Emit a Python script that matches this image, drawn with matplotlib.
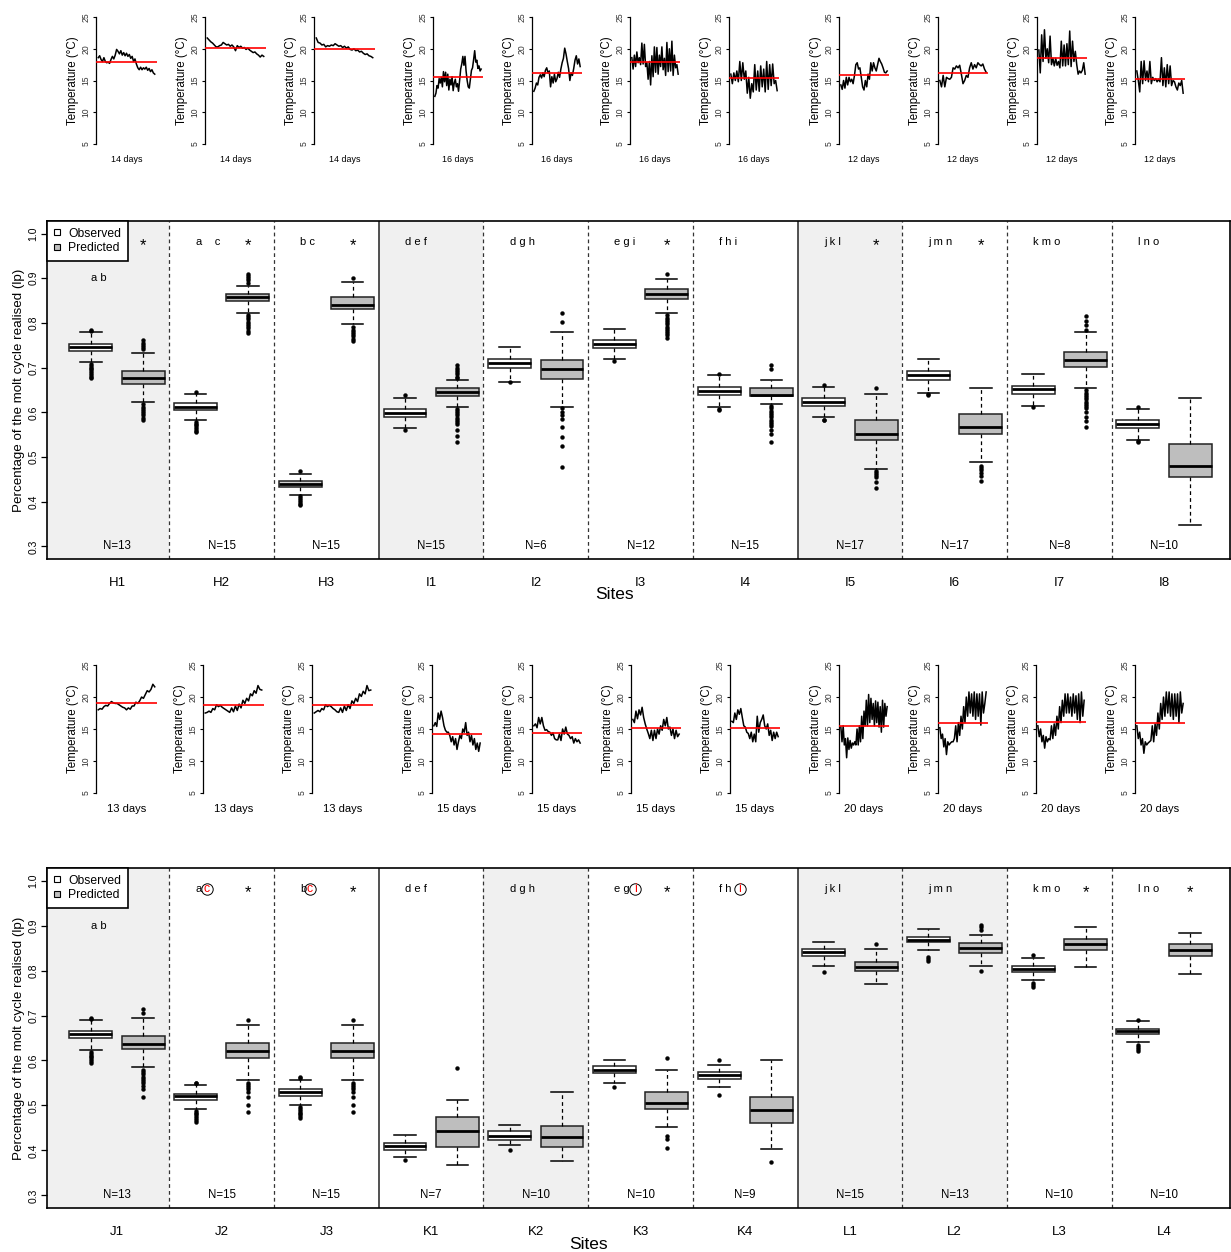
import matplotlib
matplotlib.use('Agg')
import matplotlib.pyplot as plt
from matplotlib.lines import Line2D
import numpy as np

plt.rcParams['font.family'] = ['Liberation Sans', 'DejaVu Sans']

# ------------------------------------------------------------------ data
sites_top = ['H1', 'H2', 'H3', 'I1', 'I2', 'I3', 'I4', 'I5', 'I6', 'I7', 'I8']
sites_bot = ['J1', 'J2', 'J3', 'K1', 'K2', 'K3', 'K4', 'L1', 'L2', 'L3', 'L4']
n_top = [13, 15, 15, 15, 6, 12, 15, 17, 17, 8, 10]
n_bot = [13, 15, 15, 7, 10, 10, 9, 15, 13, 10, 10]
letters_top = ['a b', 'a    c', 'b c', 'd e f', 'd g h', 'e g i', 'f h i',
               'j k l', 'j m n', 'k m o', 'l n o']
letters_bot = ['a b', 'a', 'b', 'd e f', 'd g h', 'e g', 'f h',
               'j k l', 'j m n', 'k m o', 'l n o']
circled_bot = ['', 'c', 'c', '', '', 'i', 'i', '', '', '', '']
star_top = [1, 1, 1, 0, 0, 1, 0, 1, 1, 0, 0]
star_bot = [0, 1, 1, 0, 0, 1, 0, 0, 0, 1, 1]

# box statistics: [lower whisker, q1, median, q3, upper whisker]
obs_top = [[0.712, 0.737, 0.747, 0.754, 0.780],
           [0.583, 0.605, 0.613, 0.620, 0.641],
           [0.416, 0.434, 0.440, 0.446, 0.463],
           [0.566, 0.590, 0.599, 0.607, 0.633],
           [0.669, 0.699, 0.710, 0.719, 0.747],
           [0.719, 0.744, 0.753, 0.762, 0.787],
           [0.612, 0.638, 0.648, 0.656, 0.683],
           [0.589, 0.614, 0.624, 0.633, 0.657],
           [0.644, 0.672, 0.683, 0.692, 0.720],
           [0.615, 0.642, 0.652, 0.660, 0.686],
           [0.539, 0.565, 0.574, 0.582, 0.608]]
obs_top_out = [[0.784, 0.782, 0.708, 0.704, 0.700, 0.696, 0.692, 0.688, 0.684, 0.680, 0.676],
               [0.645, 0.579, 0.575, 0.571, 0.567, 0.563, 0.559, 0.555],
               [0.468, 0.412, 0.408, 0.404, 0.400, 0.396, 0.392],
               [0.638, 0.560],
               [0.667],
               [0.715],
               [0.686, 0.607, 0.605],
               [0.661, 0.584, 0.582],
               [0.639, 0.641],
               [0.611],
               [0.613, 0.535, 0.533]]
pred_top = [[0.623, 0.663, 0.676, 0.693, 0.733],
            [0.823, 0.848, 0.858, 0.865, 0.883],
            [0.797, 0.831, 0.841, 0.857, 0.891],
            [0.613, 0.637, 0.646, 0.654, 0.672],
            [0.613, 0.675, 0.696, 0.717, 0.780],
            [0.822, 0.854, 0.865, 0.877, 0.898],
            [0.619, 0.637, 0.639, 0.654, 0.672],
            [0.473, 0.538, 0.552, 0.582, 0.640],
            [0.490, 0.552, 0.568, 0.597, 0.654],
            [0.654, 0.701, 0.717, 0.734, 0.780],
            [0.347, 0.456, 0.481, 0.530, 0.631]]
pred_top_out = [[0.761, 0.756, 0.751, 0.746, 0.741, 0.618, 0.613, 0.608, 0.603, 0.598, 0.593, 0.588, 0.583],
                [0.910, 0.905, 0.900, 0.895, 0.890, 0.818, 0.813, 0.808, 0.803, 0.798, 0.793, 0.788, 0.783, 0.778],
                [0.901, 0.790, 0.785, 0.780, 0.775, 0.770, 0.765, 0.760],
                [0.706, 0.700, 0.695, 0.690, 0.685, 0.680, 0.676, 0.608, 0.603, 0.598, 0.593, 0.588,
                 0.583, 0.578, 0.573, 0.560, 0.548, 0.533],
                [0.822, 0.801, 0.609, 0.600, 0.594, 0.585, 0.568, 0.545, 0.525, 0.478],
                [0.909, 0.817, 0.812, 0.807, 0.802, 0.797, 0.792, 0.787, 0.782, 0.777, 0.772, 0.767],
                [0.706, 0.697, 0.614, 0.609, 0.604, 0.599, 0.594, 0.589, 0.584, 0.579, 0.574, 0.569,
                 0.560, 0.551, 0.533],
                [0.654, 0.468, 0.464, 0.460, 0.455, 0.445, 0.431],
                [0.479, 0.475, 0.470, 0.465, 0.458, 0.446],
                [0.815, 0.805, 0.795, 0.785, 0.649, 0.644, 0.639, 0.634, 0.629, 0.624, 0.619, 0.614,
                 0.609, 0.600, 0.590, 0.580, 0.568],
                []]

obs_bot = [[0.623, 0.649, 0.658, 0.665, 0.690],
           [0.492, 0.512, 0.520, 0.526, 0.546],
           [0.500, 0.521, 0.529, 0.536, 0.557],
           [0.386, 0.400, 0.409, 0.417, 0.435],
           [0.412, 0.423, 0.432, 0.443, 0.456],
           [0.551, 0.572, 0.579, 0.587, 0.600],
           [0.540, 0.559, 0.567, 0.575, 0.591],
           [0.809, 0.832, 0.841, 0.849, 0.864],
           [0.846, 0.863, 0.869, 0.875, 0.892],
           [0.778, 0.796, 0.803, 0.811, 0.827],
           [0.640, 0.658, 0.665, 0.670, 0.687]]
obs_bot_out = [[0.695, 0.692, 0.619, 0.615, 0.611, 0.607, 0.603, 0.599, 0.595],
               [0.551, 0.549, 0.488, 0.484, 0.480, 0.476, 0.472, 0.468, 0.464],
               [0.563, 0.560, 0.496, 0.492, 0.488, 0.484, 0.480, 0.476, 0.472],
               [0.378],
               [0.400],
               [0.542],
               [0.600, 0.524],
               [0.796],
               [0.831, 0.826, 0.821],
               [0.834, 0.773, 0.768, 0.763],
               [0.691, 0.635, 0.630, 0.625, 0.620]]
pred_bot = [[0.585, 0.626, 0.637, 0.655, 0.694],
            [0.556, 0.605, 0.622, 0.639, 0.680],
            [0.556, 0.605, 0.622, 0.639, 0.680],
            [0.367, 0.407, 0.443, 0.474, 0.512],
            [0.376, 0.407, 0.430, 0.454, 0.530],
            [0.453, 0.492, 0.506, 0.531, 0.579],
            [0.403, 0.462, 0.490, 0.518, 0.600],
            [0.771, 0.798, 0.807, 0.819, 0.849],
            [0.811, 0.840, 0.851, 0.861, 0.880],
            [0.807, 0.845, 0.858, 0.871, 0.897],
            [0.793, 0.832, 0.846, 0.858, 0.884]]
pred_bot_out = [[0.714, 0.706, 0.579, 0.574, 0.569, 0.564, 0.559, 0.554, 0.549, 0.544, 0.537, 0.519],
                [0.689, 0.551, 0.546, 0.541, 0.536, 0.531, 0.518, 0.501, 0.485],
                [0.689, 0.551, 0.546, 0.541, 0.536, 0.531, 0.518, 0.501, 0.485],
                [0.584],
                [],
                [0.605, 0.431, 0.426, 0.406],
                [0.375],
                [0.858],
                [0.902, 0.896, 0.890, 0.799],
                [],
                []]

# temperature series (deg C) and their means
temp_top = [
    [18.6, 18.9, 18.3, 18.0, 18.6, 18.0, 17.8, 17.9, 17.7, 18.3, 18.8, 18.4, 19.0, 19.9, 19.6, 19.2, 19.7,
     19.0, 19.4, 18.9, 19.3, 18.8, 19.1, 18.5, 18.8, 18.0, 18.4, 17.6, 17.0, 16.7, 17.1, 16.7, 17.0, 16.8,
     17.1, 16.6, 16.9, 16.4, 16.7, 16.2, 16.0],
    [21.7, 21.4, 21.1, 20.9, 20.6, 20.3, 20.3, 20.5, 20.6, 21.0, 20.8, 20.6, 20.7, 20.4, 20.6, 20.3, 19.7,
     20.5, 20.2, 20.4, 20.1, 20.2, 19.9, 20.1, 19.8, 19.6, 19.4, 19.5, 19.2, 19.0, 18.7, 19.0, 18.8],
    [21.7, 21.0, 20.9, 20.6, 20.7, 20.3, 20.5, 20.4, 20.6, 20.5, 20.8, 20.6, 20.4, 20.5, 20.2, 20.4, 20.1,
     20.3, 19.9, 19.8, 20.0, 19.7, 19.8, 19.5, 19.6, 19.3, 19.1, 19.2, 18.9, 18.8, 18.6],
    [12.5, 13.0, 14.2, 13.8, 15.3, 14.6, 15.5, 14.0, 16.4, 14.8, 16.3, 14.2, 16.0, 13.5, 15.2, 14.3, 15.6,
     13.4, 14.6, 15.2, 14.0, 14.5, 13.3, 15.0, 16.8, 17.6, 18.8, 17.4, 18.8, 16.5, 15.0, 14.0, 13.8, 15.2,
     16.6, 17.0, 18.3, 19.7, 17.9, 18.2, 16.9, 17.3, 16.5, 16.8],
    [13.3, 13.8, 14.6, 14.3, 15.5, 15.9, 15.4, 16.2, 15.6, 16.6, 17.0, 16.2, 16.5, 14.0, 15.6, 14.6, 16.0,
     14.8, 15.3, 16.3, 15.5, 16.8, 17.8, 18.5, 20.1, 19.2, 18.0, 16.9, 15.0, 16.2, 15.8, 16.9, 18.2, 18.9,
     17.6, 18.4, 17.2],
    [18.6, 16.8, 19.0, 17.2, 19.5, 17.8, 18.6, 17.5, 20.9, 17.6, 20.7, 17.2, 17.8, 15.2, 18.0, 14.3, 18.9,
     15.6, 20.3, 16.3, 20.2, 16.0, 19.0, 17.2, 20.3, 16.7, 18.5, 15.8, 21.0, 16.4, 20.0, 16.5, 21.2, 15.8,
     19.0, 17.0, 17.5, 16.0],
    [16.0, 14.5, 16.2, 15.0, 16.5, 14.8, 18.0, 15.0, 17.8, 15.2, 16.5, 13.0, 15.5, 12.2, 14.5, 13.2, 17.5,
     13.5, 16.5, 13.3, 17.3, 14.0, 16.8, 13.2, 18.0, 13.6, 17.5, 14.2, 17.6, 14.5, 15.0, 13.4],
    [14.3, 13.6, 15.0, 13.8, 15.5, 14.3, 15.5, 14.8, 15.2, 14.5, 15.8, 17.5, 17.8, 16.8, 17.0, 15.5, 14.0,
     13.5, 15.0, 14.0, 16.0, 15.2, 17.8, 16.5, 17.8, 17.0, 16.5, 17.5, 18.5, 18.0, 17.6, 17.0, 16.3, 16.2,
     16.5],
    [15.0, 14.0, 15.8, 14.0, 15.5, 15.3, 15.2, 15.5, 17.0, 16.8, 17.3, 17.0, 17.4, 16.0, 14.5, 15.0, 15.8,
     15.5, 17.0, 17.8, 16.8, 17.5, 17.0, 17.8, 17.5, 17.3, 17.6, 16.8, 16.3],
    [19.8, 16.2, 22.2, 18.0, 23.0, 18.5, 20.0, 17.8, 22.0, 17.5, 18.5, 17.3, 18.5, 17.4, 18.0, 17.0, 21.2,
     17.3, 20.6, 17.3, 20.8, 17.5, 22.8, 17.2, 21.2, 18.0, 19.6, 17.5, 16.0, 16.5, 16.2, 16.6, 17.8, 16.0],
    [16.5, 15.0, 13.2, 18.0, 14.5, 18.1, 15.0, 16.5, 14.8, 18.0, 14.5, 15.5, 15.0, 15.3, 14.8, 15.2, 14.8,
     18.6, 14.2, 17.0, 14.0, 17.5, 14.5, 17.3, 14.2, 15.0, 14.8, 14.0, 13.5, 14.6, 14.2, 15.0, 13.0],
]
mean_top = [17.9, 20.1, 20.0, 15.5, 16.2, 17.9, 15.4, 15.9, 16.2, 18.5, 15.3]
days_top = [14, 14, 14, 16, 16, 16, 16, 12, 12, 12, 12]

temp_bot = [
    [18.0, 18.2, 18.1, 18.5, 18.7, 18.6, 19.0, 19.3, 19.1, 19.0, 19.0, 18.8, 18.6, 18.4, 18.3, 18.0, 18.3,
     18.1, 18.6, 18.6, 19.2, 19.0, 19.4, 20.0, 19.8, 20.4, 21.0, 20.8, 21.2, 22.0, 21.6],
    [17.5, 17.6, 17.8, 17.6, 18.2, 18.0, 18.8, 18.5, 18.7, 18.4, 18.2, 18.0, 17.8, 17.6, 18.3, 17.7, 18.6,
     17.9, 18.9, 18.3, 19.5, 19.0, 19.8, 19.4, 20.5, 20.2, 21.0, 20.6, 21.8, 21.2, 21.1],
    [17.5, 17.7, 17.9, 17.7, 18.2, 18.0, 18.8, 18.5, 18.7, 18.5, 18.2, 18.0, 17.7, 17.6, 18.3, 17.6, 18.6,
     17.9, 18.8, 18.2, 19.4, 19.0, 19.8, 19.3, 20.5, 20.1, 20.9, 20.5, 21.8, 21.0, 21.1],
    [15.5, 16.0, 15.4, 17.5, 16.5, 17.8, 16.8, 15.5, 14.8, 14.5, 14.5, 14.0, 13.0, 13.8, 12.5, 13.5, 11.8,
     13.0, 14.0, 13.5, 15.0, 14.5, 16.0, 14.0, 14.5, 13.0, 14.0, 12.5, 13.5, 11.8, 12.8, 11.5, 12.8],
    [15.5, 15.8, 15.2, 16.8, 15.8, 16.8, 15.5, 14.8, 14.9, 14.6, 14.5, 14.0, 14.4, 13.5, 13.3, 13.3, 14.2,
     13.2, 15.0, 14.2, 15.3, 14.2, 14.0, 13.5, 13.8, 12.8, 13.5, 13.0, 13.3, 12.8],
    [16.5, 16.0, 17.8, 16.6, 18.0, 17.2, 18.4, 16.8, 15.8, 15.0, 14.3, 13.5, 14.8, 13.2, 14.8, 13.5, 15.0,
     14.2, 15.5, 14.8, 16.5, 15.5, 16.8, 15.0, 15.3, 14.0, 15.0, 13.5, 14.8, 13.8, 14.2],
    [16.2, 16.0, 17.5, 16.5, 18.0, 17.3, 18.2, 16.8, 15.5, 15.3, 14.5, 14.3, 13.5, 14.5, 13.0, 14.2, 13.0,
     17.0, 14.5, 16.0, 16.5, 17.2, 15.5, 15.0, 15.8, 14.0, 14.8, 13.2, 14.5, 13.5, 14.5, 13.8],
    [15.3, 13.0, 15.5, 12.5, 13.5, 10.5, 13.6, 11.8, 13.2, 12.0, 12.8, 12.5, 13.0, 12.5, 15.0, 12.5, 15.5,
     13.0, 17.0, 13.5, 17.8, 15.5, 19.5, 15.5, 20.4, 16.0, 19.8, 16.5, 19.0, 15.5, 19.4, 16.0, 19.2, 15.3,
     18.5, 14.5, 19.5, 15.3, 19.0, 17.0, 18.5],
    [15.2, 13.5, 14.2, 12.2, 13.5, 11.0, 13.0, 12.5, 12.8, 13.0, 13.0, 13.5, 15.5, 13.0, 16.0, 14.0, 17.0,
     15.0, 18.5, 16.0, 20.0, 17.0, 20.8, 17.5, 20.5, 17.0, 20.8, 16.5, 20.5, 17.0, 20.5, 15.6, 20.8, 17.5,
     19.0, 20.8],
    [15.5, 13.8, 15.0, 13.0, 14.0, 12.0, 13.8, 13.0, 13.5, 13.3, 15.5, 13.5, 15.8, 14.0, 17.0, 15.0, 18.5,
     16.0, 19.5, 17.0, 20.5, 17.5, 20.5, 17.5, 20.0, 17.0, 20.5, 17.5, 20.2, 16.5, 20.5, 16.0, 20.8, 17.0,
     19.5],
    [15.5, 13.5, 14.5, 12.5, 13.5, 11.2, 13.0, 12.5, 12.8, 13.0, 13.2, 15.5, 13.0, 15.8, 14.0, 17.5, 15.0,
     19.0, 16.5, 20.0, 17.0, 20.8, 17.5, 20.8, 17.0, 20.5, 16.5, 20.5, 17.0, 20.5, 16.0, 20.8, 17.5, 19.0],
]
mean_bot = [19.1, 18.7, 18.7, 14.2, 14.4, 15.2, 15.1, 15.5, 15.9, 16.1, 16.0]
days_bot = [13, 13, 13, 15, 15, 15, 15, 20, 20, 20, 20]

# ------------------------------------------------------------------ layout / style
W, H = 1231, 1252
fig = plt.figure(figsize=(W / 100, H / 100), dpi=100)


def px_axes(x0, y0, x1, y1):
    return fig.add_axes([x0 / W, 1 - y1 / H, (x1 - x0) / W, (y1 - y0) / H])


GRAY = '#bebebe'
SHADE = '#f0f0f0'
XL = (-0.669, 10.63)


def box_stats(arr, out):
    return [dict(whislo=a[0], q1=a[1], med=a[2], q3=a[3], whishi=a[4], fliers=f)
            for a, f in zip(arr, out)]


def main_panel(ax, sites, obs, obs_out, pred, pred_out, ns, letters, stars,
               shaded, obs_fill, circled=None, circ_x=None, sites_x=0.479, legend=True):
    ax.set_xlim(*XL)
    ax.set_ylim(0.272, 1.028)
    for i, s in enumerate(shaded):
        if s:
            lo = XL[0] if i == 0 else i - 0.5
            hi = XL[1] if i == 10 else i + 0.5
            ax.axvspan(lo, hi, color=SHADE, lw=0, zorder=0)
    for i in range(10):
        if i in (2, 6):
            ax.axvline(i + 0.5, color='#222222', lw=1.1, zorder=1)
        else:
            ax.axvline(i + 0.5, color='#333333', lw=0.9, ls=(0, (3, 2.5)), zorder=1)
    pos = np.arange(len(sites))
    common = dict(widths=0.41, patch_artist=True, manage_ticks=False,
                  medianprops=dict(color='black', lw=2.0),
                  whiskerprops=dict(color='black', lw=0.9, ls=(0, (3, 2.5))),
                  capprops=dict(color='black', lw=1.1),
                  flierprops=dict(marker='o', ms=2.8, mfc='black', mec='black', mew=0.3))
    b1 = ax.bxp(box_stats(obs, obs_out), positions=pos - 0.25,
                boxprops=dict(facecolor='white', edgecolor='#222222', lw=1.1), **common)
    for patch, fc in zip(b1['boxes'], obs_fill):
        patch.set_facecolor(fc)
    ax.bxp(box_stats(pred, pred_out), positions=pos + 0.25,
           boxprops=dict(facecolor=GRAY, edgecolor='#222222', lw=1.1), **common)

    for i in range(len(sites)):
        ax.text(i, 0.30, f'N={ns[i]}', ha='center', va='center', fontsize=8.3)
        ly = 0.90 if i == 0 else 0.982
        ax.text(i - 0.25, ly, letters[i], ha='left', va='center', fontsize=8)
        if stars[i]:
            ax.text(i + 0.25, 0.974, '*', ha='center', va='center', fontsize=12)
        if circled is not None and circled[i]:
            cx = i + circ_x[i]
            ax.plot([cx], [0.982], marker='o', ms=8.2, mfc='none', mec='black', mew=0.7, zorder=5)
            ax.text(cx, 0.982, circled[i], color='red', ha='center', va='center', fontsize=8.8, zorder=6)

    ax.set_xticks(pos)
    ax.set_xticklabels(sites)
    ax.tick_params(axis='x', length=0, pad=13, labelsize=9.5)
    ax.set_yticks(np.round(np.arange(0.3, 1.01, 0.1), 1))
    ax.set_yticklabels([f'{v:.1f}' for v in np.arange(0.3, 1.01, 0.1)], rotation=90, va='center')
    ax.tick_params(axis='y', length=4.5, pad=1.5, labelsize=7.5, width=0.9)
    for sp in ax.spines.values():
        sp.set_linewidth(1.2)
        sp.set_zorder(10)
    ax.set_ylabel('Percentage of the molt cycle realised (lp)', fontsize=9.6)
    ax.yaxis.set_label_coords(-28 / 1183, 0.5)
    ax.yaxis.label.set_va('center')
    ax.set_xlabel('Sites', fontsize=12.5)
    ax.xaxis.set_label_coords(sites_x, -36 / 338)
    ax.xaxis.label.set_va('center')
    if legend:
        handles = [Line2D([], [], ls='none', marker='s', ms=5, mfc='white', mec='black', mew=0.8),
                   Line2D([], [], ls='none', marker='s', ms=5, mfc=GRAY, mec='black', mew=0.8)]
        leg = ax.legend(handles, ['Observed', 'Predicted'], loc='upper left', fontsize=8.7,
                        frameon=True, fancybox=False, edgecolor='black', framealpha=1,
                        borderaxespad=0, handlelength=0.6, handletextpad=0.6,
                        borderpad=0.55, labelspacing=0.22)
        leg.get_frame().set_linewidth(1.2)
        leg.set_zorder(20)


def mini(ax, series, mean, days, days_fs):
    n = len(series)
    x = np.arange(n)
    ax.plot(x, series, color='black', lw=1.1, zorder=2)
    ax.axhline(mean, color='red', lw=1.2, zorder=3)
    ax.set_xlim(-0.04 * (n - 1), 1.04 * (n - 1))
    ax.set_ylim(4.2, 25.8)
    for s in ('top', 'right', 'bottom'):
        ax.spines[s].set_visible(False)
    ax.spines['left'].set_bounds(5, 25)
    ax.spines['left'].set_linewidth(0.9)
    ax.set_xticks([])
    ax.set_yticks([5, 10, 15, 20, 25])
    ax.set_yticklabels(['5', '10', '15', '20', '25'], rotation=90, va='center')
    ax.tick_params(axis='y', length=2.5, pad=1.5, labelsize=6.2, width=0.8, labelcolor='#333333')
    ax.set_ylabel('Temperature (°C)', fontsize=8.3, labelpad=1.5)
    ax.set_xlabel(f'{days} days', fontsize=days_fs, labelpad=4.5)
    ax.patch.set_alpha(0)


# mini plots positions (px)
top_x = [96, 205, 314, 433, 532, 630, 729, 839, 938, 1037, 1135]
bot_x = [96, 203, 312, 432, 532, 631, 730, 839, 938, 1036, 1135]
for i in range(11):
    w = 61 if i < 3 else 50
    ax = px_axes(top_x[i], 12, top_x[i] + w, 149)
    mini(ax, temp_top[i], mean_top[i], days_top[i], 6.4)
    ax = px_axes(bot_x[i], 660, bot_x[i] + w, 798)
    mini(ax, temp_bot[i], mean_bot[i], days_bot[i], 8.0)

shade_top = [1, 0, 0, 1, 0, 0, 0, 1, 0, 0, 0]
shade_bot = [1, 0, 0, 0, 1, 0, 0, 1, 1, 0, 0]
obs_fill_top = ['white', 'white', '#d4d4d4'] + ['white'] * 8
obs_fill_bot = ['white'] * 11
circ_x = [0, -0.143, -0.157, 0, 0, -0.05, -0.05, 0, 0, 0, 0]

ax1 = px_axes(47, 221, 1230, 559)
main_panel(ax1, sites_top, obs_top, obs_top_out, pred_top, pred_top_out, n_top,
           letters_top, star_top, shade_top, obs_fill_top, sites_x=(614 - 47) / 1183)
ax2 = px_axes(47, 868, 1230, 1208)
main_panel(ax2, sites_bot, obs_bot, obs_bot_out, pred_bot, pred_bot_out, n_bot,
           letters_bot, star_bot, shade_bot, obs_fill_bot, circled=circled_bot, circ_x=circ_x,
           sites_x=(588 - 47) / 1183)

fig.savefig('out.png', dpi=100)
